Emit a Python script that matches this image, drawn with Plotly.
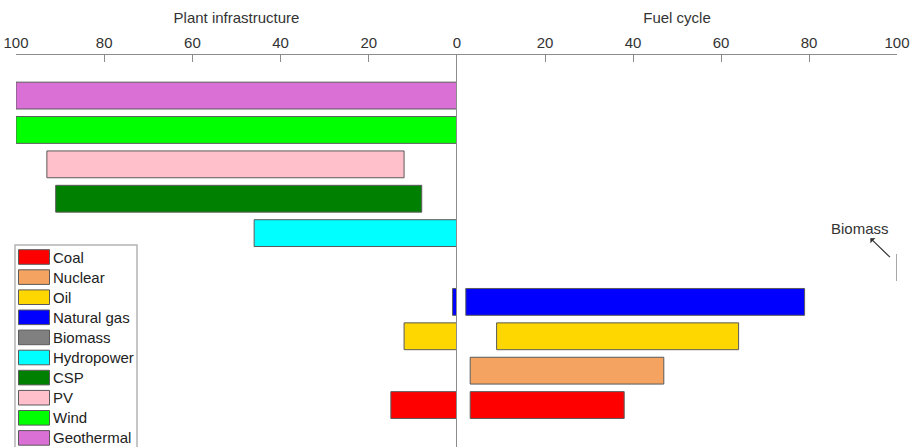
import plotly.graph_objects as go

# categories from bottom row to top row
categories = ["Coal", "Nuclear", "Oil", "Natural gas", "Biomass",
              "Hydropower", "CSP", "PV", "Wind", "Geothermal"]
colors = ["#FF0000", "#F4A460", "#FFD700", "#0000FF", "#808080",
          "#00FFFF", "#008000", "#FFC0CB", "#00FF00", "#DA70D6"]

# plant infrastructure share (%), drawn on a reversed axis
plant_lo = [0, None, 0, 0, None, 0, 8, 12, 0, 0]
plant_hi = [15, None, 12, 1, None, 46, 91, 93, 100, 100]

# fuel cycle share (%)
fuel_lo = [3, 3, 9, 2, 100, None, None, None, None, None]
fuel_hi = [38, 47, 64, 79, 100, None, None, None, None, None]

x_ticks = [0, 20, 40, 60, 80, 100]
left_tick_text = ["0", "20", "40", "60", "80", "100"]
right_tick_text = ["", "20", "40", "60", "80", "100"]  # "0" already shown by left axis

BAR_W = 0.78
EDGE = dict(color="#5a5a5a", width=1)
FAMILY = "Liberation Sans, Arial, sans-serif"
FONT = dict(family=FAMILY, size=15, color="#333333")
AXIS_GREY = "#8c8c8c"

W, H = 914, 447
ML, MR, MT, MB = 16, 17, 55, 0
PW, PH = W - ML - MR, H - MT - MB


def px(x):
    return (x - ML) / PW


def py(y):
    return 1 - (y - MT) / PH


fig = go.Figure()

for i, cat in enumerate(categories):
    lo, hi = plant_lo[i], plant_hi[i]
    if lo is None:
        continue
    fig.add_trace(go.Bar(
        y=[i], x=[hi - lo], base=[lo], orientation="h", width=BAR_W, name=cat,
        marker=dict(color=colors[i], line=EDGE),
        xaxis="x", yaxis="y", hoverinfo="skip", showlegend=False,
    ))

for i, cat in enumerate(categories):
    lo, hi = fuel_lo[i], fuel_hi[i]
    if lo is None:
        continue
    if hi - lo > 0:
        fig.add_trace(go.Bar(
            y=[i], x=[hi - lo], base=[lo], orientation="h", width=BAR_W, name=cat,
            marker=dict(color=colors[i], line=EDGE),
            xaxis="x2", yaxis="y", hoverinfo="skip", showlegend=False,
        ))
    else:
        # zero-length range: show it as a thin outline
        fig.add_trace(go.Scatter(
            x=[hi, hi], y=[i - BAR_W / 2, i + BAR_W / 2], mode="lines",
            line=dict(color="#8a8a8a", width=1.5), name=cat,
            xaxis="x2", yaxis="y", hoverinfo="skip", showlegend=False,
        ))

# legend drawn by hand: wide swatches, 20px rows
shapes = [dict(type="rect", xref="paper", yref="paper",
               x0=px(15), x1=px(137), y0=py(460), y1=py(245),
               fillcolor="white", line=dict(color="#b4b4b4", width=1.5), layer="above")]
annotations = []
for k, cat in enumerate(categories):
    yc = 257 + 20.1 * k
    shapes.append(dict(type="rect", xref="paper", yref="paper",
                       x0=px(18.5), x1=px(49.5), y0=py(yc + 7.3), y1=py(yc - 7.3),
                       fillcolor=colors[k], line=dict(color="#5a5a5a", width=1),
                       layer="above"))
    annotations.append(dict(x=px(51), y=py(yc), xref="paper", yref="paper",
                            text=cat, showarrow=False, xanchor="left", yanchor="middle",
                            font=dict(family=FAMILY, size=15, color="#222222")))

annotations.append(dict(
    x=98.4, y=4.3, xref="x2", yref="y", text="Biomass",
    showarrow=True, arrowside="start", arrowhead=2, arrowsize=1,
    arrowwidth=1.2, arrowcolor="#333333", ax=-30, ay=-29,
    font=dict(family=FAMILY, size=15, color="#333333"),
))

split = 441 / 881
axis_common = dict(
    side="top", anchor="y", tickvals=x_ticks, ticks="inside", ticklen=7,
    tickcolor=AXIS_GREY, showline=True, linecolor=AXIS_GREY, linewidth=1,
    showgrid=False, zeroline=False, tickfont=FONT, ticklabeloverflow="allow",
)

fig.update_layout(
    width=W, height=H,
    font=FONT, plot_bgcolor="white", paper_bgcolor="white",
    margin=dict(l=ML, r=MR, t=MT, b=MB, autoexpand=False),
    barmode="overlay", showlegend=False,
    xaxis=dict(domain=[0, split], range=[100, 0], autorange=False,
               ticktext=left_tick_text,
               title=dict(text="Plant infrastructure", font=FONT, standoff=6),
               **axis_common),
    xaxis2=dict(domain=[split, 1], range=[0, 100], autorange=False,
                ticktext=right_tick_text,
                title=dict(text="Fuel cycle", font=FONT, standoff=6),
                **axis_common),
    yaxis=dict(range=[-1.22, 10.18], autorange=False, anchor="x2", side="left",
               showticklabels=False, ticks="", showgrid=False, zeroline=False,
               showline=True, linecolor=AXIS_GREY, linewidth=1),
    shapes=shapes,
    annotations=annotations,
)

# drop the browser's default 8px body margin so the figure fills the window
fig.write_html("out.html", config={"displayModeBar": False},
               post_script="document.body.style.margin = '0';")
